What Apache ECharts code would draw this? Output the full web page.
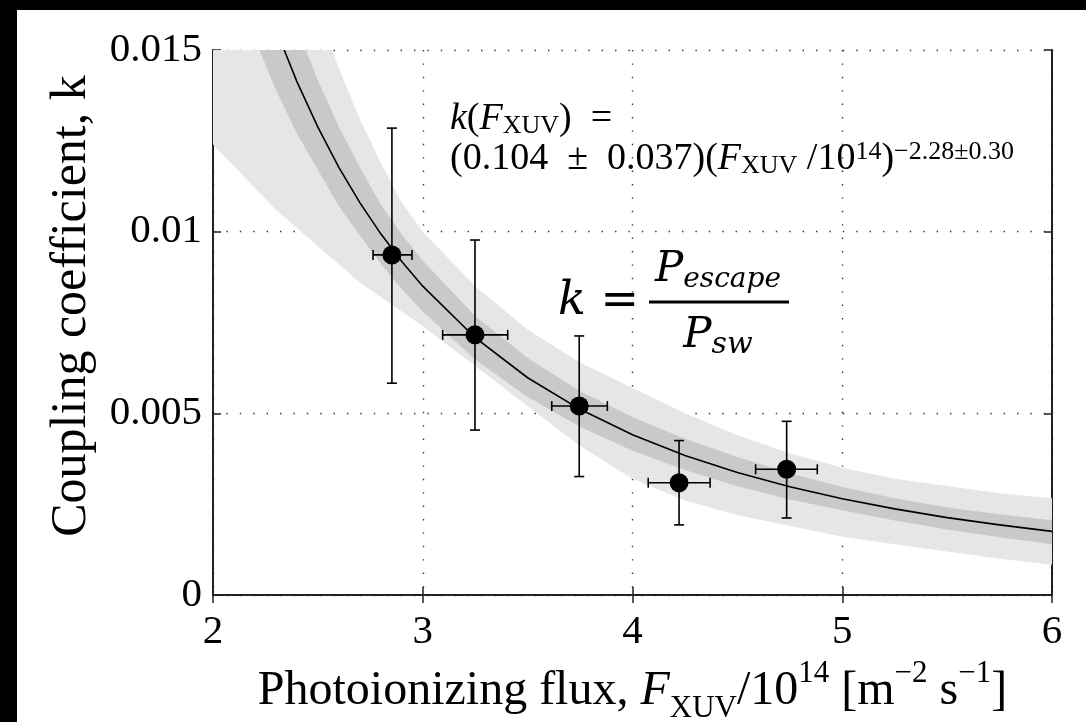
<!DOCTYPE html>
<html>
<head>
<meta charset="utf-8">
<script src="https://cdn.jsdelivr.net/npm/echarts@6/dist/echarts.min.js"></script>
<style>
html, body { margin: 0; padding: 0; background: #fff; overflow: hidden; }
#main { width: 1086px; height: 722px; }
</style>
</head>
<body>
<div id="main"></div>
<script>
// measured points (flux in units of 1e14 m^-2 s^-1)
var fluxX    = [2.853, 3.249, 3.746, 4.222, 4.735];
var fluxLow  = [2.763, 3.095, 3.615, 4.075, 4.587];
var fluxHigh = [2.949, 3.405, 3.880, 4.370, 4.881];
var coupK    = [0.00936, 0.00716, 0.00520, 0.00309, 0.00346];
var kLow     = [0.00583, 0.00454, 0.00326, 0.00193, 0.00212];
var kHigh    = [0.01285, 0.00977, 0.00713, 0.00425, 0.00478];

var fitX      = [2.0, 2.1, 2.2, 2.3, 2.4, 2.5, 2.6, 2.7, 2.8, 2.9, 3.0, 3.25, 3.5, 3.75, 4.0, 4.25, 4.5, 4.75, 5.0, 5.25, 5.5, 5.75, 6.0];
var fitK      = [0.0214, 0.01916, 0.01723, 0.01557, 0.01413, 0.01288, 0.01177, 0.0108, 0.00994, 0.00918, 0.0085, 0.00708, 0.00598, 0.00511, 0.00441, 0.00384, 0.00337, 0.00298, 0.00265, 0.00237, 0.00213, 0.00193, 0.00175];
var innerHigh = [0.0245, 0.0217, 0.0193, 0.01736, 0.01561, 0.01417, 0.01289, 0.01177, 0.01075, 0.00992, 0.0092, 0.00768, 0.00652, 0.00561, 0.0049, 0.0043, 0.0038, 0.00335, 0.00297, 0.00266, 0.00241, 0.00222, 0.00206];
var innerLow  = [0.0186, 0.0168, 0.0153, 0.0139, 0.0127, 0.0117, 0.0107, 0.0099, 0.00912, 0.00842, 0.0078, 0.00648, 0.00545, 0.00463, 0.00397, 0.00344, 0.00299, 0.00263, 0.00233, 0.00205, 0.0018, 0.00159, 0.0014];
var outerHigh = [0.0285, 0.0252, 0.0224, 0.0199, 0.0178, 0.016, 0.0145, 0.0131, 0.0119, 0.0108, 0.01, 0.0085, 0.0073, 0.0064, 0.0057, 0.0050, 0.0044, 0.0039, 0.0035, 0.0032, 0.003, 0.0028, 0.00266];
var outerLow  = [0.0124, 0.0118, 0.0112, 0.0106, 0.0101, 0.0096, 0.0091, 0.0086, 0.0082, 0.0078, 0.0074, 0.0063, 0.0052, 0.0041, 0.0032, 0.0026, 0.0022, 0.0019, 0.0016, 0.0014, 0.0012, 0.001, 0.00083];

var serif = '"Liberation Serif", "DejaVu Serif", serif';

var chartDom = document.getElementById('main');
var myChart = echarts.init(chartDom);
var option;

function clipRect(params) {
  var cs = params.coordSys;
  return { type: 'rect', shape: { x: cs.x, y: cs.y, width: cs.width, height: cs.height } };
}

// one polygon per band, drawn once from the whole list
function bandSeries(lo, hi, color, z) {
  return {
    type: 'custom',
    clip: true,
    silent: true,
    data: fitX.map(function (x, i) { return [x, lo[i], hi[i]]; }),
    renderItem: function (params, api) {
      if (params.dataIndex !== 0) return null;
      var pts = [];
      for (var i = 0; i < fitX.length; i++) pts.push(api.coord([fitX[i], hi[i]]));
      for (var j = fitX.length - 1; j >= 0; j--) pts.push(api.coord([fitX[j], lo[j]]));
      return {
        type: 'polygon',
        shape: { points: pts },
        style: { fill: color },
        clipPath: clipRect(params)
      };
    },
    z: z
  };
}

function fitSeries() {
  return {
    type: 'custom',
    clip: true,
    silent: true,
    data: fitX.map(function (x, i) { return [x, fitK[i]]; }),
    renderItem: function (params, api) {
      if (params.dataIndex !== 0) return null;
      var pts = fitX.map(function (x, i) { return api.coord([x, fitK[i]]); });
      return {
        type: 'polyline',
        shape: { points: pts },
        style: { stroke: '#000', lineWidth: 1.6, fill: null },
        clipPath: clipRect(params)
      };
    },
    z: 3
  };
}

function renderErr(params, api) {
  var c = api.coord([api.value(0), api.value(1)]);
  var l = api.coord([api.value(2), api.value(1)]);
  var r = api.coord([api.value(3), api.value(1)]);
  var lo = api.coord([api.value(0), api.value(4)]);
  var hi = api.coord([api.value(0), api.value(5)]);
  var cap = 5;
  var st = { stroke: '#000', lineWidth: 1.6 };
  return {
    type: 'group',
    children: [
      { type: 'line', shape: { x1: c[0], y1: lo[1], x2: c[0], y2: hi[1] }, style: st },
      { type: 'line', shape: { x1: c[0] - cap, y1: lo[1], x2: c[0] + cap, y2: lo[1] }, style: st },
      { type: 'line', shape: { x1: c[0] - cap, y1: hi[1], x2: c[0] + cap, y2: hi[1] }, style: st },
      { type: 'line', shape: { x1: l[0], y1: c[1], x2: r[0], y2: c[1] }, style: st },
      { type: 'line', shape: { x1: l[0], y1: c[1] - cap, x2: l[0], y2: c[1] + cap }, style: st },
      { type: 'line', shape: { x1: r[0], y1: c[1] - cap, x2: r[0], y2: c[1] + cap }, style: st }
    ]
  };
}

var frame = { show: true, lineStyle: { color: '#222', width: 2 } };
var inTick = { show: true, inside: true, length: 8, lineStyle: { color: '#222', width: 1.5 } };
var dotted = { show: true, lineStyle: { color: '#333', width: 1.4, type: [1.4, 12] } };

option = {
  animation: false,
  backgroundColor: '#fff',
  grid: { left: 213, right: 34, top: 50, bottom: 127, containLabel: false, outerBoundsMode: 'none' },
  xAxis: [
    {
      type: 'value', min: 2, max: 6, interval: 1,
      axisLine: frame, axisTick: inTick, splitLine: dotted,
      axisLabel: { color: '#000', fontFamily: serif, fontSize: 41, margin: 17 },
      name: 'Photoionizing flux, {i|F}{sub|XUV}/10{sup|14} [m{sup|−2} s{sup|−1}]',
      nameLocation: 'middle',
      nameGap: 54,
      nameTextStyle: {
        color: '#000', fontFamily: serif, fontSize: 48, lineHeight: 66,
        rich: {
          i: { fontFamily: serif, fontStyle: 'italic', fontSize: 48, color: '#000', lineHeight: 66 },
          sub: { fontFamily: serif, fontSize: 31, color: '#000', lineHeight: 48, verticalAlign: 'bottom' },
          sup: { fontFamily: serif, fontSize: 31, color: '#000', lineHeight: 32, verticalAlign: 'top' }
        }
      }
    },
    {
      type: 'value', min: 2, max: 6, interval: 1, position: 'top',
      axisLine: frame, axisTick: inTick, axisLabel: { show: false }, splitLine: { show: false }
    }
  ],
  yAxis: [
    {
      type: 'value', min: 0, max: 0.015, interval: 0.005,
      axisLine: frame, axisTick: inTick, splitLine: dotted,
      axisLabel: {
        color: '#000', fontFamily: serif, fontSize: 41, margin: 11,
        formatter: function (v) { return String(+v.toFixed(3)); }
      }
    },
    {
      type: 'value', min: 0, max: 0.015, interval: 0.005, position: 'right',
      axisLine: frame, axisTick: inTick, axisLabel: { show: false }, splitLine: { show: false }
    }
  ],
  series: [
    bandSeries(outerLow, outerHigh, '#e6e6e6', 1),
    bandSeries(innerLow, innerHigh, '#c9c9c9', 2),
    fitSeries(),
    {
      type: 'custom',
      renderItem: renderErr,
      data: fluxX.map(function (x, i) { return [x, coupK[i], fluxLow[i], fluxHigh[i], kLow[i], kHigh[i]]; }),
      z: 4
    },
    {
      type: 'scatter',
      data: fluxX.map(function (x, i) { return [x, coupK[i]]; }),
      symbol: 'circle',
      symbolSize: 19,
      itemStyle: { color: '#000', opacity: 1 },
      z: 5
    }
  ],
  graphic: [
    { type: 'rect', shape: { x: 0, y: 0, width: 17, height: 722 }, style: { fill: '#000' }, z: 100 },
    { type: 'rect', shape: { x: 0, y: 0, width: 1086, height: 10 }, style: { fill: '#000' }, z: 100 },
    {
      type: 'text', x: 72, y: 306, rotation: Math.PI / 2, z: 100,
      style: {
        text: 'Coupling coefficient, k', fill: '#000',
        font: '50px "Liberation Serif", serif',
        align: 'center', verticalAlign: 'middle', textAlign: 'center', textVerticalAlign: 'middle'
      }
    },
    {
      type: 'text', x: 450, y: 99, z: 100,
      style: {
        text: '{i|k}({i|F}{sub|XUV})  =\n(0.104\u2002±\u20020.037)({i|F}{sub|XUV} /10{sup|14}){sup|−2.28±0.30}',
        fill: '#000',
        font: '38px "Liberation Serif", serif',
        lineHeight: 40,
        rich: {
          i: { font: 'italic 38px "Liberation Serif", serif', lineHeight: 40 },
          sub: { font: '26px "Liberation Serif", serif', lineHeight: 32, verticalAlign: 'bottom' },
          sup: { font: '26px "Liberation Serif", serif', lineHeight: 24, verticalAlign: 'top' }
        }
      }
    },
    {
      type: 'text', x: 558, y: 302, z: 100,
      style: {
        text: '{k|k} =', fill: '#000',
        font: '46px "DejaVu Serif", serif',
        verticalAlign: 'middle', textVerticalAlign: 'middle',
        rich: { k: { font: 'italic 46px "DejaVu Serif", serif' } }
      }
    },
    {
      type: 'text', x: 718, y: 294, z: 100,
      style: {
        text: '{p|P}{s|escape}', fill: '#000',
        align: 'center', textAlign: 'center', verticalAlign: 'bottom', textVerticalAlign: 'bottom',
        rich: {
          p: { font: 'italic 42px "DejaVu Serif", serif', lineHeight: 48 },
          s: { font: 'italic 28px "DejaVu Serif", serif', lineHeight: 38, verticalAlign: 'bottom' }
        }
      }
    },
    { type: 'line', shape: { x1: 649, y1: 302, x2: 789, y2: 302 }, style: { stroke: '#000', lineWidth: 3 }, z: 100 },
    {
      type: 'text', x: 718, y: 312, z: 100,
      style: {
        text: '{p|P}{s|sw}', fill: '#000',
        align: 'center', textAlign: 'center', verticalAlign: 'top', textVerticalAlign: 'top',
        rich: {
          p: { font: 'italic 42px "DejaVu Serif", serif', lineHeight: 48 },
          s: { font: 'italic 30px "DejaVu Serif", serif', lineHeight: 38, verticalAlign: 'bottom' }
        }
      }
    }
  ]
};

option && myChart.setOption(option);
</script>
</body>
</html>
